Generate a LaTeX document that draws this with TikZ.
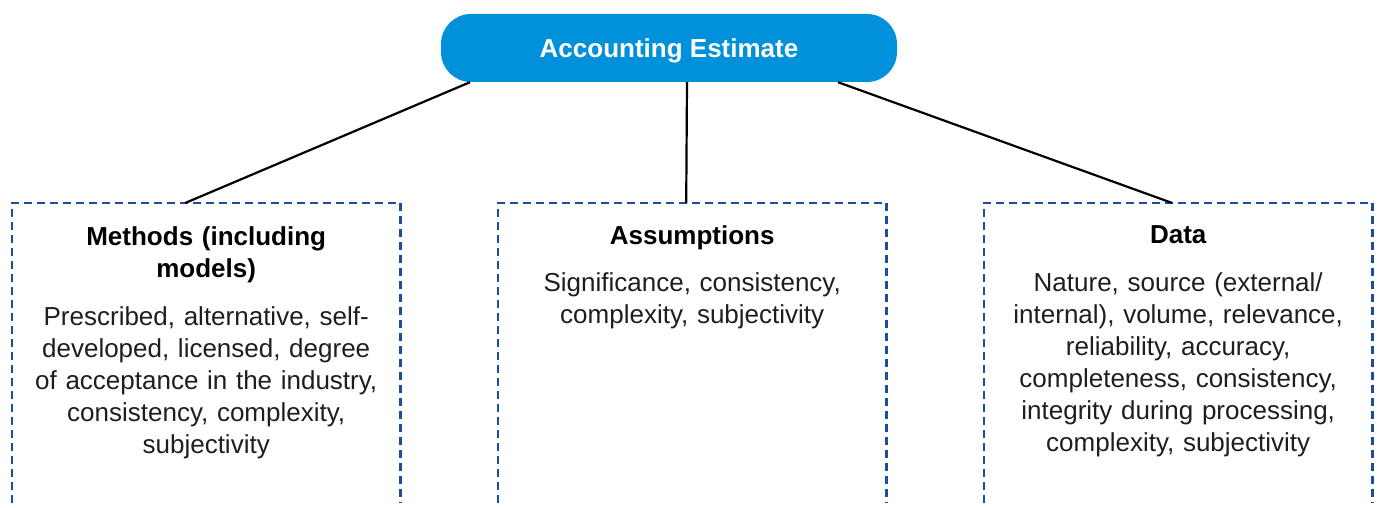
\documentclass[tikz,border=0pt]{standalone}
\usepackage{fontspec}
\setmainfont{Liberation Sans}
\usetikzlibrary{calc}
\definecolor{pillblue}{HTML}{0091DA}
\definecolor{dashblue}{HTML}{1C4E9B}
\definecolor{bodytext}{HTML}{1E1E1E}
\begin{document}
\begin{tikzpicture}[x=1pt,y=-1pt,
  pill/.style={fill=pillblue, draw=none, rounded corners=30pt,
    minimum width=456pt, minimum height=68pt, text=white,
    text height=19pt, text depth=0pt,
    font=\fontsize{26}{30}\selectfont\bfseries},
  panel/.style={draw=none, minimum width=388pt, minimum height=300pt,
    anchor=north west, inner sep=0pt},
  outline/.style={draw=dashblue, line width=2.7pt, dash pattern=on 8pt off 5pt},
  link/.style={draw=black, line width=2.2pt},
  heading/.style={anchor=north, align=center, text width=370pt,
    font=\fontsize{26}{32}\selectfont\bfseries, text=black, inner sep=0pt},
  body/.style={anchor=north, align=center, text width=380pt,
    font=\fontsize{26}{32}\selectfont, text=bodytext, inner sep=0pt}
]
\useasboundingbox (0,0) rectangle (1378,508);

% top concept
\node[pill] (est) at (669,48) {Accounting Estimate};

% three open-bottomed panels
\node[panel] (meth) at (12,203) {};
\node[panel] (assu) at (498,203) {};
\node[panel] (data) at (984,203) {};
\foreach \p in {meth,assu,data}
  \draw[outline] (\p.south west) -- (\p.north west) -- (\p.north east) -- (\p.south east);

% connectors
\draw[link] ([xshift=-199pt]est.south) -- ([xshift=-21pt]meth.north);
\draw[link] ([xshift=18pt]est.south) -- ([xshift=-6pt]assu.north);
\draw[link] ([xshift=169pt]est.south) -- ([xshift=-6pt]data.north);

% panel texts
\node[heading] (mh) at ([yshift=-23pt]meth.north) {Methods (including\\models)};
\node[body] (mb) at ([yshift=-103pt]meth.north) {Prescribed, alternative, self-\\developed, licensed, degree\\of acceptance in the industry,\\consistency, complexity,\\subjectivity};

\node[heading] (ah) at ([yshift=-22pt]assu.north) {Assumptions};
\node[body] (ab) at ([yshift=-69pt]assu.north) {Significance, consistency,\\complexity, subjectivity};

\node[heading] (dh) at ([yshift=-22pt]data.north) {Data};
\node[body] (db) at ([yshift=-69pt]data.north) {Nature, source (external/\\internal), volume, relevance,\\reliability, accuracy,\\completeness, consistency,\\integrity during processing,\\complexity, subjectivity};
\end{tikzpicture}
\end{document}
